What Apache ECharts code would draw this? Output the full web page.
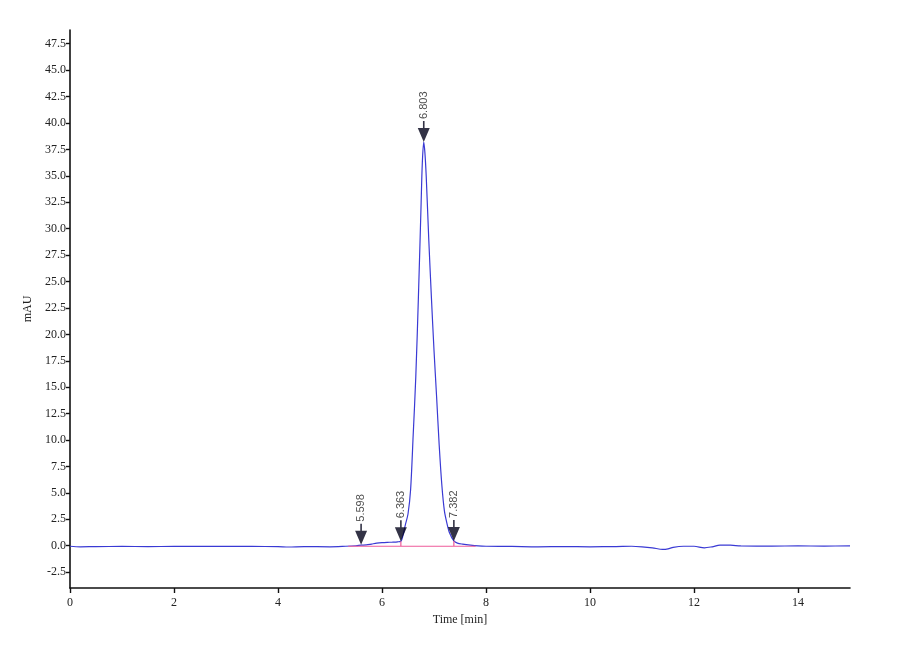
<!DOCTYPE html>
<html>
<head>
<meta charset="utf-8">
<script src="https://cdn.jsdelivr.net/npm/echarts@6/dist/echarts.min.js"></script>
<style>
html,body{margin:0;padding:0;background:#fff;}
#c{width:900px;height:660px;}
</style>
</head>
<body>
<div id="c"></div>
<script>
// Chromatogram trace (time in min, absorbance in mAU)
var times = [0, 0.2, 0.5, 1.0, 1.5, 2.0, 2.5, 3.0, 3.5, 4.0, 4.2, 4.5, 5.0, 5.3, 5.5, 5.598, 5.7, 5.8, 5.9, 6.0, 6.1, 6.2, 6.3, 6.363,
  6.4, 6.45, 6.5, 6.55, 6.6, 6.65, 6.7, 6.75, 6.775, 6.803, 6.825, 6.85, 6.9, 6.95, 7.0, 7.05, 7.1, 7.15, 7.2, 7.25, 7.3, 7.382,
  7.45, 7.55, 7.7, 7.85, 8.0, 8.5, 9.0, 9.5, 10.0, 10.5, 10.8, 11.0, 11.2, 11.4, 11.5, 11.6, 11.8, 12.0, 12.2, 12.35, 12.5, 12.7,
  12.9, 13.5, 14.0, 14.5, 15.0];
var signal = [-0.05, -0.1, -0.08, -0.07, -0.08, -0.07, -0.07, -0.07, -0.07, -0.08, -0.12, -0.08, -0.1, -0.05, 0.0, 0.05, 0.08, 0.16, 0.24, 0.29, 0.32, 0.34, 0.37, 0.42,
  0.9, 2.0, 3.0, 5.3, 10.5, 16.0, 23.5, 32.0, 36.2, 38.2, 37.2, 35.0, 28.9, 23.5, 18.5, 14.1, 9.5, 5.8, 3.3, 2.1, 1.2, 0.45,
  0.25, 0.15, 0.05, -0.02, -0.05, -0.07, -0.1, -0.08, -0.1, -0.08, -0.05, -0.1, -0.2, -0.35, -0.3, -0.15, -0.05, -0.05, -0.2, -0.1, 0.05, 0.05,
  -0.02, -0.03, -0.02, -0.03, -0.02];

// Integration baseline (pink)
var baseTimes = [5.35, 6.363, 6.363, 6.363, 7.382, 7.382, 7.382, 7.8];
var baseValues = [-0.05, -0.05, 0.42, -0.05, -0.05, 0.45, -0.05, -0.05];

// Peak markers
var peakNames = ['5.598', '6.363', '6.803', '7.382'];
var peakTimes = [5.598, 6.363, 6.803, 7.382];
var peakValues = [0.1, 0.42, 38.2, 0.45];

// Axis ticks
var yTicks = [-2.5, 0, 2.5, 5, 7.5, 10, 12.5, 15, 17.5, 20, 22.5, 25, 27.5, 30, 32.5, 35, 37.5, 40, 42.5, 45, 47.5];
var xTicks = [0, 2, 4, 6, 8, 10, 12, 14];

var trace = times.map(function (t, i) { return [t, signal[i]]; });
var base = baseTimes.map(function (t, i) { return [t, baseValues[i]]; });
var peaks = peakTimes.map(function (t, i) { return { name: peakNames[i], value: [t, peakValues[i]] }; });

var serif = '"Liberation Serif", "DejaVu Serif", serif';
var chart = echarts.init(document.getElementById('c'), null, { renderer: 'canvas' });
chart.setOption({
  backgroundColor: '#ffffff',
  animation: false,
  grid: { left: 70, right: 50, top: 30, bottom: 72 },
  xAxis: {
    type: 'value', min: 0, max: 15,
    name: 'Time [min]', nameLocation: 'middle', nameGap: 23,
    nameTextStyle: { fontFamily: serif, fontSize: 12, color: '#222' },
    axisLine: { onZero: false, lineStyle: { color: '#111', width: 1.6 } },
    axisTick: { show: true, length: 5, lineStyle: { color: '#111', width: 1.4 }, customValues: xTicks },
    axisLabel: { customValues: xTicks, margin: 9, fontFamily: serif, fontSize: 12, color: '#222' },
    splitLine: { show: false }
  },
  yAxis: {
    type: 'value', min: -4, max: 48.8,
    name: 'mAU', nameLocation: 'middle', nameGap: 33,
    nameTextStyle: { fontFamily: serif, fontSize: 12, color: '#222' },
    axisLine: { show: true, onZero: false, lineStyle: { color: '#111', width: 1.6 } },
    axisTick: { show: true, length: 4, lineStyle: { color: '#111', width: 1.4 }, customValues: yTicks },
    axisLabel: { customValues: yTicks, margin: 4, fontFamily: serif, fontSize: 12, color: '#222',
      formatter: function (v) { return v.toFixed(1); } },
    splitLine: { show: false }
  },
  series: [
    {
      type: 'line', data: trace, symbol: 'none', smooth: 0.3, z: 2,
      lineStyle: { color: '#3a3ad4', width: 1.2 }
    },
    {
      type: 'line', data: base, symbol: 'none', z: 3,
      lineStyle: { color: '#ee5b9a', width: 1.2 }
    },
    {
      type: 'scatter', data: peaks, z: 5,
      symbol: 'path://M5.2,0 L6.8,0 L6.8,7 L12,7 L6,21 L0,7 L5.2,7 Z',
      symbolSize: [12, 21], symbolOffset: [0, '-50%'],
      itemStyle: { color: '#000018' },
      label: {
        show: true, position: 'top', distance: 2, rotate: 90,
        align: 'left', verticalAlign: 'middle',
        formatter: function (p) { return p.name; },
        fontFamily: '"Liberation Sans", Arial, sans-serif', fontSize: 11, color: '#222'
      }
    }
  ]
});
</script>
</body>
</html>
